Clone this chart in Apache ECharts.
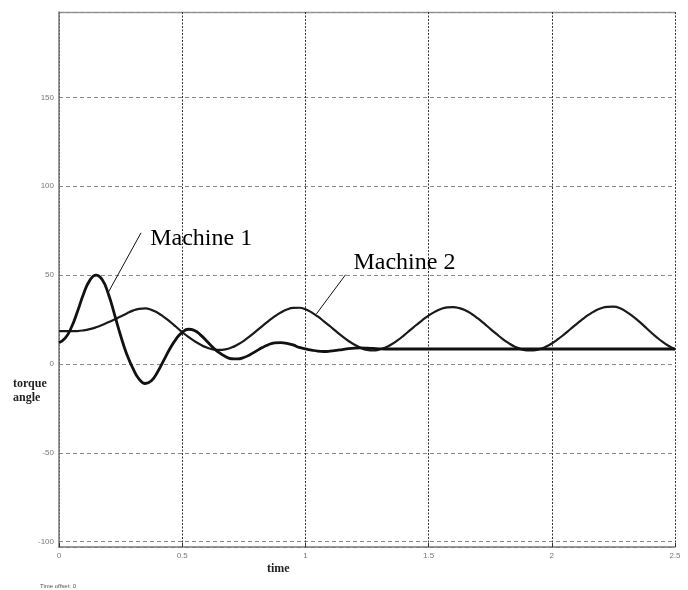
<!DOCTYPE html>
<html>
<head>
<meta charset="utf-8">
<script src="https://cdn.jsdelivr.net/npm/echarts@6/dist/echarts.min.js"></script>
<style>html,body{margin:0;padding:0;background:#fff}#c{width:688px;height:590px}</style>
</head>
<body>
<div id="c"></div>
<script>
var xTicks = [0, 0.5, 1, 1.5, 2, 2.5];
var yTicks = [-100, -50, 0, 50, 100, 150];

var time = [0,0.025,0.05,0.075,0.1,0.125,0.15,0.175,0.2,0.225,0.25,0.275,0.3,0.325,0.35,0.375,0.4,0.425,0.45,0.475,
  0.5,0.525,0.55,0.575,0.6,0.625,0.65,0.675,0.7,0.725,0.75,0.775,0.8,0.825,0.85,0.875,0.9,0.925,0.95,0.975,
  1.0,1.025,1.05,1.075,1.1,1.125,1.15,1.175,1.2,1.225,1.25,1.275,1.3,1.325,1.35,1.375,1.4,1.425,1.45,1.475,
  1.5,1.525,1.55,1.575,1.6,1.625,1.65,1.675,1.7,1.725,1.75,1.775,1.8,1.825,1.85,1.875,1.9,1.925,1.95,1.975,
  2.0,2.025,2.05,2.075,2.1,2.125,2.15,2.175,2.2,2.225,2.25,2.275,2.3,2.325,2.35,2.375,2.4,2.425,2.45,2.475,2.5];

var machine1 = [12,14.5,20.5,29.5,39.5,47,50,47.5,39.5,28,16,5.5,-2.5,-8.5,-11,-9.5,-4.5,2,8.5,14,
  17.8,19.5,18.8,16.2,12.8,9.3,6.3,4.2,2.9,2.8,3.6,5.2,7.2,9.2,10.8,11.8,12.0,11.6,10.7,9.3,
  8.5,7.8,7.2,7.0,7.2,7.6,8.1,8.6,8.9,9.0,8.9,8.7,8.5,8.4,8.4,8.4,8.4,8.4,8.4,8.4,
  8.4,8.4,8.4,8.4,8.4,8.4,8.4,8.4,8.4,8.4,8.4,8.4,8.4,8.4,8.4,8.4,8.4,8.4,8.4,8.4,
  8.4,8.4,8.4,8.4,8.4,8.4,8.4,8.4,8.4,8.4,8.4,8.4,8.4,8.4,8.4,8.4,8.4,8.4,8.4,8.4,8.4];

var machine2 = [18.4,18.4,18.4,18.5,18.9,19.6,20.6,21.9,23.4,25.0,26.7,28.4,30.0,31.0,31.2,30.4,28.8,26.5,23.8,20.9,
  17.9,15.2,12.8,10.8,9.2,8.2,7.9,8.2,9.2,10.9,13.0,15.6,18.4,21.3,24.1,26.7,28.9,30.6,31.5,31.6,
  30.8,29.0,26.7,24.0,21.2,18.3,15.5,12.9,10.8,9.0,7.9,7.6,8.1,9.3,11.1,13.4,16.1,19.0,21.9,24.7,
  27.2,29.3,30.9,31.8,32.0,31.4,30.1,28.1,25.6,22.8,19.8,16.9,14.1,11.7,9.7,8.3,7.6,7.6,8.3,9.6,
  11.5,13.9,16.6,19.5,22.4,25.2,27.7,29.8,31.3,32.1,32.2,31.5,29.6,27.2,24.4,21.3,18.1,15.1,12.4,10.1,8.3];

var names = ['Machine 1', 'Machine 2'];
var leader1 = [[0.199, 40], [0.333, 73.8]];
var leader2 = [[1.045, 28.2], [1.163, 50.2]];
var labelAt1 = [0.37, 70.5];
var labelAt2 = [1.195, 57];

function pairs(t, v) { return t.map(function (x, i) { return [x, v[i]]; }); }

var chart = echarts.init(document.getElementById('c'), null, {renderer: 'canvas'});
chart.setOption({
  animation: false,
  backgroundColor: '#fff',
  grid: {left: 59, right: 13, top: 12, bottom: 43, show: false},
  xAxis: {
    type: 'value', min: 0, max: 2.5, interval: 0.5,
    axisLine: {show: true, onZero: false, lineStyle: {color: '#777', width: 1.5}},
    axisTick: {show: true, inside: true, length: 4, lineStyle: {color: '#333'}},
    axisLabel: {color: '#777', fontSize: 8, fontFamily: 'Liberation Sans', margin: 5,
      formatter: function (v) { return xTicks.indexOf(v) >= 0 ? String(v) : ''; }},
    splitLine: {show: true, lineStyle: {color: '#333', type: [2, 1.5], width: 1}}
  },
  yAxis: {
    type: 'value', min: -103, max: 198, splitNumber: 6,
    axisLine: {show: true, onZero: false, lineStyle: {color: '#777', width: 1.5}},
    axisTick: {show: false},
    axisLabel: {color: '#777', fontSize: 8, fontFamily: 'Liberation Sans', margin: 5,
      showMinLabel: false, showMaxLabel: false,
      formatter: function (v) { return yTicks.indexOf(v) >= 0 ? String(v) : ''; }},
    splitLine: {show: true, lineStyle: {color: '#8a8a8a', type: [4, 3], width: 1}}
  },
  graphic: [
    {type: 'line', shape: {x1: 59, y1: 12.5, x2: 675, y2: 12.5}, style: {stroke: '#999', lineWidth: 1.5}},
    {type: 'text', left: 13, top: 377, style: {text: 'torque\nangle', font: 'bold 12px "Liberation Serif"', fill: '#222', lineHeight: 14}},
    {type: 'text', left: 267, top: 563, style: {text: 'time', font: 'bold 12px "Liberation Serif"', fill: '#222'}},
    {type: 'text', left: 40, top: 583, style: {text: 'Time offset: 0', font: '6px "Liberation Sans"', fill: '#555'}}
  ],
  series: [
    {
      name: names[0], type: 'line', data: pairs(time, machine1), smooth: 0.5, symbol: 'none',
      lineStyle: {color: '#111', width: 2.8}, z: 4,
      markLine: {silent: true, symbol: 'none', label: {show: false},
        lineStyle: {color: '#111', width: 1, type: 'solid'},
        data: [[{coord: leader1[0]}, {coord: leader1[1]}], [{coord: leader2[0]}, {coord: leader2[1]}]]},
      markPoint: {symbol: 'circle', symbolSize: 0, silent: true,
        label: {show: true, position: 'right', distance: 0, color: '#000', fontSize: 24, fontFamily: 'Liberation Serif',
          formatter: function (p) { return p.name; }},
        data: [{name: names[0], coord: labelAt1}, {name: names[1], coord: labelAt2}]}
    },
    {
      name: names[1], type: 'line', data: pairs(time, machine2), smooth: 0.5, symbol: 'none',
      lineStyle: {color: '#1a1a1a', width: 2.2}, z: 3
    }
  ]
});
</script>
</body>
</html>
